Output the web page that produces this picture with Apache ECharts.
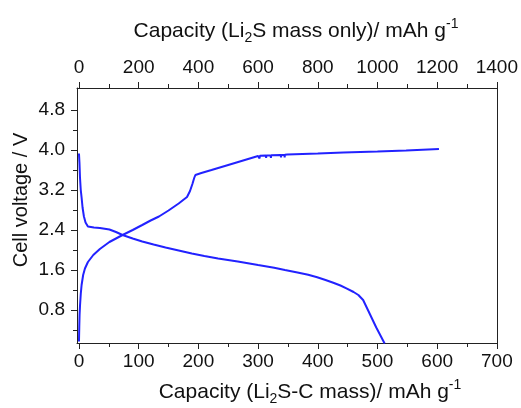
<!DOCTYPE html>
<html>
<head>
<meta charset="utf-8">
<script src="https://cdn.jsdelivr.net/npm/echarts@6/dist/echarts.min.js"></script>
<style>
html,body{margin:0;padding:0;background:#fff;}
#chart{width:521px;height:408px;}
</style>
</head>
<body>
<div id="chart"></div>
<script>
// Bottom axis: capacity (Li2S-C mass) / mAh g-1 ; top axis = 2x (Li2S mass only)
const bottomTicks = [0, 100, 200, 300, 400, 500, 600, 700];
const bottomMinor = [50, 150, 250, 350, 450, 550, 650];
const topTicks = [0, 200, 400, 600, 800, 1000, 1200, 1400];
const topMinor = [100, 300, 500, 700, 900, 1100, 1300];
const yTicks = [0.8, 1.6, 2.4, 3.2, 4.0, 4.8];
const yMinor = [0.4, 1.2, 2.0, 2.8, 3.6, 4.4];

// Discharge curve
const dischargeCap = [0, 0.8, 1.7, 3, 4.4, 6, 8.3, 11, 15, 25, 35, 51, 62, 73, 90, 106, 125, 145, 167, 189, 210, 233, 266, 300, 327, 345, 366, 384, 399, 413, 426, 438, 448, 460, 468, 476, 484, 498, 512];
const dischargeV   = [3.93, 3.75, 3.45, 3.2, 3.05, 2.85, 2.67, 2.55, 2.47, 2.45, 2.44, 2.41, 2.36, 2.30, 2.23, 2.17, 2.11, 2.05, 1.99, 1.93, 1.88, 1.83, 1.77, 1.70, 1.645, 1.60, 1.55, 1.505, 1.455, 1.40, 1.345, 1.29, 1.234, 1.16, 1.10, 1.0, 0.8, 0.45, 0.13];

// Charge curve
const chargeCap = [0, 0.5, 1, 1.8, 3, 4.4, 7, 10, 15, 24, 35, 51, 73, 90, 106, 120, 134, 150, 167, 181, 186, 190, 193, 195, 205, 222, 250, 275, 300, 302, 302.5, 303, 313, 313.5, 314, 321, 321.5, 322, 338, 338.5, 339, 344, 344.5, 345, 349, 400, 443, 500, 548, 603];
const chargeV   = [0.17, 0.45, 0.7, 0.9, 1.12, 1.3, 1.5, 1.63, 1.76, 1.9, 2.02, 2.16, 2.30, 2.40, 2.50, 2.59, 2.67, 2.79, 2.93, 3.06, 3.18, 3.32, 3.44, 3.50, 3.54, 3.60, 3.70, 3.79, 3.88, 3.885, 3.83, 3.885, 3.89, 3.84, 3.89, 3.89, 3.84, 3.895, 3.90, 3.85, 3.90, 3.90, 3.85, 3.905, 3.91, 3.93, 3.95, 3.97, 3.99, 4.02];

const FONT = "'Liberation Sans', Arial, sans-serif";
const AX = '#222';
const LINE = '#2222ff';
const XMIN = -3.3, XMAX = 700, YMIN = 0.14, YMAX = 5.24;

const lbl = {color: '#111', fontSize: 19, fontFamily: FONT};

const chart = echarts.init(document.getElementById('chart'), null, {renderer: 'canvas'});
const richT = {
  sub: {fontSize: 14, fontFamily: FONT, color: '#111', lineHeight: 14, verticalAlign: 'bottom'},
  sup: {fontSize: 14, fontFamily: FONT, color: '#111', lineHeight: 14, verticalAlign: 'top'}
};
chart.setOption({
  animation: false,
  backgroundColor: '#fff',
  grid: {left: 77, right: 19, top: 88, bottom: 65, containLabel: false},
  xAxis: [
    {type: 'value', position: 'bottom', min: XMIN, max: XMAX,
     axisLine: {show: true, onZero: false, lineStyle: {color: AX, width: 1}},
     axisTick: {show: true, customValues: bottomTicks, length: 6, inside: false, lineStyle: {color: AX}},
     axisLabel: {show: true, customValues: bottomTicks, margin: 9, formatter: v => String(v), ...lbl},
     splitLine: {show: false}},
    {type: 'value', position: 'bottom', min: XMIN, max: XMAX,
     axisLine: {show: false, onZero: false},
     axisTick: {show: true, customValues: bottomMinor, length: 4, lineStyle: {color: AX}},
     axisLabel: {show: false}, splitLine: {show: false}},
    {type: 'value', position: 'top', min: XMIN * 2, max: XMAX * 2,
     axisLine: {show: true, onZero: false, lineStyle: {color: AX, width: 1}},
     axisTick: {show: true, customValues: topTicks, length: 6, lineStyle: {color: AX}},
     axisLabel: {show: true, customValues: topTicks, margin: 11, formatter: v => String(v), ...lbl},
     splitLine: {show: false}},
    {type: 'value', position: 'top', min: XMIN * 2, max: XMAX * 2,
     axisLine: {show: false, onZero: false},
     axisTick: {show: true, customValues: topMinor, length: 4, lineStyle: {color: AX}},
     axisLabel: {show: false}, splitLine: {show: false}}
  ],
  yAxis: [
    {type: 'value', position: 'left', min: YMIN, max: YMAX,
     axisLine: {show: true, onZero: false, lineStyle: {color: AX, width: 1}},
     axisTick: {show: true, customValues: yTicks, length: 6, lineStyle: {color: AX}},
     axisLabel: {show: true, customValues: yTicks, margin: 12, formatter: v => v.toFixed(1), ...lbl},
     splitLine: {show: false}},
    {type: 'value', position: 'left', min: YMIN, max: YMAX,
     axisLine: {show: false, onZero: false},
     axisTick: {show: true, customValues: yMinor, length: 4, lineStyle: {color: AX}},
     axisLabel: {show: false}, splitLine: {show: false}},
    {type: 'value', position: 'right', min: YMIN, max: YMAX,
     axisLine: {show: true, onZero: false, lineStyle: {color: AX, width: 1}},
     axisTick: {show: false}, axisLabel: {show: false}, splitLine: {show: false}}
  ],
  graphic: [
    {type: 'text', x: 296, y: 31, style: {text: 'Capacity (Li{sub|2}S mass only)/ mAh g{sup|-1}', rich: richT,
      fontSize: 21, fontFamily: FONT, fill: '#111', lineHeight: 28, align: 'center', verticalAlign: 'middle'}},
    {type: 'text', x: 310, y: 392, style: {text: 'Capacity (Li{sub|2}S-C mass)/ mAh g{sup|-1}', rich: richT,
      fontSize: 21, fontFamily: FONT, fill: '#111', lineHeight: 28, align: 'center', verticalAlign: 'middle'}},
    {type: 'text', x: 21, y: 200, rotation: Math.PI / 2, style: {text: 'Cell voltage / V',
      fontSize: 20, fontFamily: FONT, fill: '#111', align: 'center', verticalAlign: 'middle'}}
  ],
  series: [
    {type: 'line', name: 'discharge', xAxisIndex: 0, yAxisIndex: 0, showSymbol: false, smooth: false,
     lineStyle: {color: LINE, width: 2}, itemStyle: {color: LINE},
     data: dischargeCap.map((c, i) => [c, dischargeV[i]])},
    {type: 'line', name: 'charge', xAxisIndex: 0, yAxisIndex: 0, showSymbol: false, smooth: false,
     lineStyle: {color: LINE, width: 2}, itemStyle: {color: LINE},
     data: chargeCap.map((c, i) => [c, chargeV[i]])}
  ]
});
</script>
</body>
</html>
